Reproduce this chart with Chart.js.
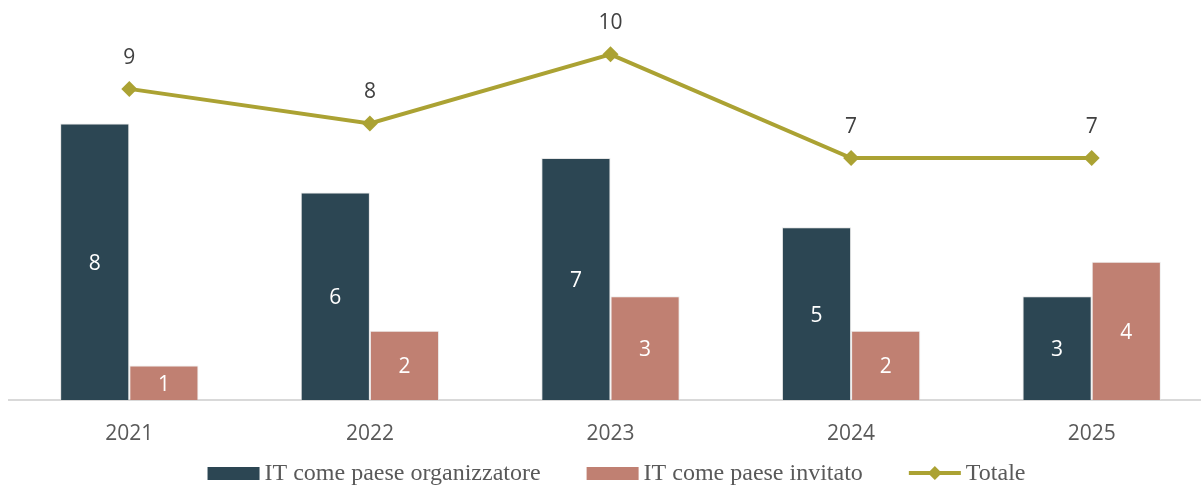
<!DOCTYPE html>
<html>
<head>
<meta charset="utf-8">
<script src="https://cdn.jsdelivr.net/npm/chart.js@4/dist/chart.umd.min.js"></script>
<style>
    html, body { margin: 0; padding: 0; background: #fff; overflow: hidden; }
    canvas { display: block; }
</style>
</head>
<body>
<canvas id="chart" width="1220" height="486"></canvas>
<script>
const years = ["2021", "2022", "2023", "2024", "2025"];
const organizzatore = [8, 6, 7, 5, 3];
const invitato = [1, 2, 3, 2, 4];
const totale = [9, 8, 10, 7, 7];

const COL_DARK = "#2c4653";
const COL_SALMON = "#c08072";
const COL_LINE = "#aba233";

// etichette dei valori (niente plugin datalabels disponibile)
const value_labels = {
    id: "value_labels",
    afterDatasetsDraw(chart) {
        const ctx = chart.ctx;
        ctx.save();
        ctx.textAlign = "center";
        ctx.textBaseline = "middle";
        ctx.font = "21px 'Open Sans'";
        chart.data.datasets.forEach((ds, i) => {
            const meta = chart.getDatasetMeta(i);
            meta.data.forEach((el, j) => {
                const v = ds.data[j];
                if (ds.type === "line") {
                    ctx.fillStyle = "#404040";
                    ctx.fillText(v, el.x, el.y - 31);
                } else {
                    ctx.fillStyle = "#ffffff";
                    ctx.fillText(v, el.x, (el.y + el.base) / 2 + 2);
                }
            });
        });
        ctx.restore();
    }
};

// legenda in basso, stile Excel: prima le barre, poi la linea
const bottom_legend = {
    id: "bottom_legend",
    afterDraw(chart) {
        const ctx = chart.ctx;
        const y = 473;
        ctx.save();
        ctx.font = "24px 'Liberation Serif'";
        ctx.textBaseline = "middle";
        const items = chart.data.datasets.map(ds => ({
            label: ds.label,
            type: ds.type,
            color: ds.type === "line" ? ds.borderColor : ds.backgroundColor,
            w: ctx.measureText(ds.label).width,
        }));
        items.sort((a, b) => (a.type === "line") - (b.type === "line"));
        const sym = 52, gap = 5, item_gap = 46;
        let total = 0;
        items.forEach((it, i) => {
            total += sym + gap + it.w + (i < items.length - 1 ? item_gap : 0);
        });
        const ca = chart.chartArea;
        let x = (ca.left + ca.right) / 2 + 6 - total / 2;
        for (const it of items) {
            if (it.type === "line") {
                ctx.strokeStyle = it.color;
                ctx.lineWidth = 4;
                ctx.beginPath();
                ctx.moveTo(x, y);
                ctx.lineTo(x + sym, y);
                ctx.stroke();
                ctx.fillStyle = it.color;
                ctx.beginPath();
                const cx = x + sym / 2, r = 7;
                ctx.moveTo(cx, y - r);
                ctx.lineTo(cx + r, y);
                ctx.lineTo(cx, y + r);
                ctx.lineTo(cx - r, y);
                ctx.closePath();
                ctx.fill();
            } else {
                ctx.fillStyle = it.color;
                ctx.fillRect(x, y - 6, sym, 13);
            }
            x += sym + gap;
            ctx.fillStyle = "#595959";
            ctx.fillText(it.label, x, y + 1);
            x += it.w + item_gap;
        }
        ctx.restore();
    }
};

const chart = new Chart(document.getElementById("chart"), {
    data: {
        labels: years,
        datasets: [
            {
                type: "line",
                label: "Totale",
                data: totale,
                borderColor: COL_LINE,
                backgroundColor: COL_LINE,
                borderWidth: 4,
                pointStyle: "rectRot",
                pointRadius: 8,
                pointBackgroundColor: COL_LINE,
                pointBorderWidth: 0,
                tension: 0,
                order: 0,
            },
            {
                type: "bar",
                label: "IT come paese organizzatore",
                data: organizzatore,
                backgroundColor: COL_DARK,
                borderColor: "rgba(220,220,220,0.7)",
                borderWidth: 1,
                categoryPercentage: 0.575,
                barPercentage: 1,
                order: 1,
            },
            {
                type: "bar",
                label: "IT come paese invitato",
                data: invitato,
                backgroundColor: COL_SALMON,
                borderColor: "rgba(230,230,230,0.7)",
                borderWidth: 1,
                categoryPercentage: 0.575,
                barPercentage: 1,
                order: 1,
            },
        ],
    },
    options: {
        responsive: false,
        animation: false,
        layout: {
            padding: { left: 9, right: 0, top: 0, bottom: 0 },
        },
        plugins: {
            legend: { display: false },
            tooltip: { enabled: false },
        },
        scales: {
            x: {
                grid: { display: false },
                border: { color: "#d9d9d9", width: 2 },
                ticks: {
                    color: "#595959",
                    font: { family: "'Open Sans'", size: 21 },
                    padding: 13,
                },
                afterFit: (scale) => { scale.height = 86; },
            },
            y: {
                display: false,
                min: 0,
                max: 11.34,
            },
        },
    },
    plugins: [value_labels, bottom_legend],
});
</script>
</body>
</html>
